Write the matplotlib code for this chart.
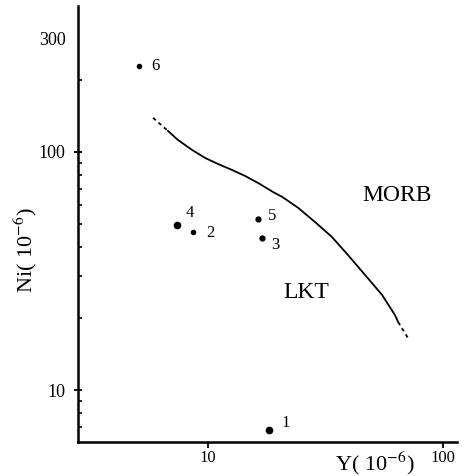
import matplotlib
matplotlib.use("Agg")
import matplotlib.pyplot as plt
from matplotlib.ticker import FixedLocator, NullFormatter

# sample points: Y and Ni contents (ppm)
sample_ids = ["1", "2", "3", "4", "5", "6"]
y_ppm = [18.1, 8.6, 16.9, 7.4, 16.3, 5.1]
ni_ppm = [6.8, 46.1, 43.6, 49.3, 52.2, 230]

# MORB / LKT boundary curve (first and last segments drawn dashed)
curve_y = [5.84, 6.76, 7.45, 8.55, 9.71, 11.03, 12.66, 14.37, 16.32, 18.9,
           20.7, 24.2, 28.5, 33.7, 39.4, 46.6, 55.0, 62.5, 64.4, 71.0]
curve_ni = [139, 122.5, 112.3, 102.0, 94.4, 89.0, 84.0, 79.3, 74.1, 67.9,
            64.7, 58.2, 50.8, 43.9, 36.9, 30.4, 25.1, 20.6, 19.3, 16.5]

fields = ["MORB", "LKT"]
field_y = [63.7, 26.1]
field_ni = [65.9, 25.6]

plt.rcParams["font.family"] = ["Liberation Serif", "DejaVu Serif"]
plt.rcParams["mathtext.fontset"] = "stix"

fig = plt.figure(figsize=(4.67, 4.76), dpi=100)
ax = fig.add_axes([0.167, 0.0714, 0.812, 0.916])
ax.set_xscale("log")
ax.set_yscale("log")
ax.set_xlim(2.8, 114.8)
ax.set_ylim(6.05, 410)

for side in ("top", "right"):
    ax.spines[side].set_visible(False)
for side in ("left", "bottom"):
    ax.spines[side].set_linewidth(1.8)

# boundary line
ax.plot(curve_y[1:-1], curve_ni[1:-1], color="black", lw=1.3,
        solid_joinstyle="round")
ax.plot(curve_y[:2], curve_ni[:2], color="black", lw=1.3, ls=(0, (2, 2)))
ax.plot(curve_y[-2:], curve_ni[-2:], color="black", lw=1.3, ls=(0, (2, 2)))

# samples
sizes = [4.5, 3, 3.5, 4.5, 3.5, 3]
offsets = [(12, 5), (13, -1), (10, -5), (9, 9), (10, 2), (12, 0)]
for sid, x, y, ms, off in zip(sample_ids, y_ppm, ni_ppm, sizes, offsets):
    ax.plot(x, y, "o", color="black", ms=ms)
    ax.annotate(sid, (x, y), xytext=off, textcoords="offset points",
                fontsize=12, va="center", ha="center")

for name, x, y in zip(fields, field_y, field_ni):
    ax.text(x, y, name, fontsize=17, ha="center", va="center")

# ticks
ax.xaxis.set_major_locator(FixedLocator([10, 100]))
ax.xaxis.set_minor_locator(FixedLocator([]))
ax.set_xticklabels(["10", "100"])
ax.tick_params(axis="x", which="major", direction="out", length=4,
               width=1.3, labelsize=12, pad=2)

ax.yaxis.set_major_locator(FixedLocator([10, 100, 300]))
ax.yaxis.set_minor_locator(FixedLocator([7, 8, 9, 20, 30, 40, 50, 60, 70, 80, 90, 200]))
ax.yaxis.set_minor_formatter(NullFormatter())
ax.set_yticklabels(["10", "100", "300"])
ax.tick_params(axis="y", which="major", direction="inout", length=6,
               width=1.3, labelsize=13, pad=6)
ax.tick_params(axis="y", which="minor", direction="in", length=3, width=1.2)
ax.yaxis.get_major_ticks()[2].tick1line.set_visible(False)

ax.text(-0.14, 0.44, r"Ni( 10$^{-6}$)", transform=ax.transAxes,
        rotation=90, fontsize=16, ha="center", va="center")
ax.text(0.784, -0.05, r"Y( 10$^{-6}$)", transform=ax.transAxes,
        fontsize=16, ha="center", va="center")

fig.savefig("out.png", dpi=100)
